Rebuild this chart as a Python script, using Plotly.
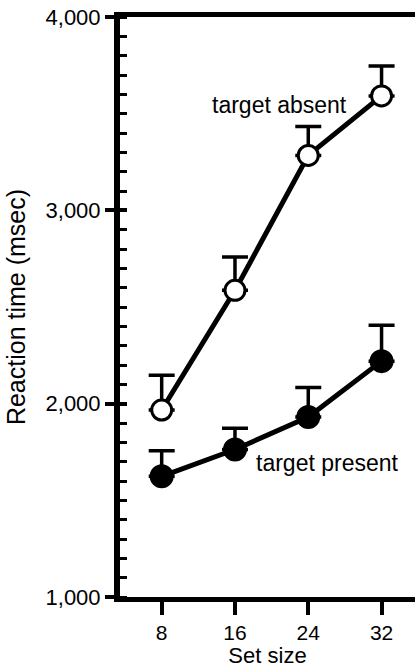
import plotly.graph_objects as go

set_size = [8, 16, 24, 32]
present_rt = [1624, 1763, 1931, 2220]
present_err = [132, 110, 152, 186]
absent_rt = [1967, 2586, 3284, 3592]
absent_err = [180, 173, 150, 154]
y_ticks = [1000, 2000, 3000, 4000]

FONT = "Liberation Sans, Arial, Helvetica, sans-serif"

fig = go.Figure()

fig.add_trace(go.Scatter(
    x=set_size, y=present_rt, mode="lines+markers",
    line=dict(color="black", width=5),
    marker=dict(size=22, color="black", line=dict(color="black", width=2)),
    error_y=dict(type="data", symmetric=False, array=present_err,
                 arrayminus=[0] * len(present_err), color="black",
                 thickness=3.5, width=13),
    showlegend=False, hoverinfo="skip", cliponaxis=False,
))
fig.add_trace(go.Scatter(
    x=set_size, y=absent_rt, mode="lines+markers",
    line=dict(color="black", width=5),
    marker=dict(size=20, color="white", line=dict(color="black", width=3)),
    error_y=dict(type="data", symmetric=False, array=absent_err,
                 arrayminus=[0] * len(absent_err), color="black",
                 thickness=3.5, width=13),
    showlegend=False, hoverinfo="skip", cliponaxis=False,
))
# dummy trace for the overlay axis carrying inside major ticks
fig.add_trace(go.Scatter(x=[None], y=[None], yaxis="y2", showlegend=False,
                         hoverinfo="skip"))

fig.add_annotation(x=20.9, y=3544, text="target absent", showarrow=False,
                   font=dict(family=FONT, size=23, color="black"))
fig.add_annotation(x=26.1, y=1691, text="target present", showarrow=False,
                   font=dict(family=FONT, size=23, color="black"))

fig.update_layout(
    width=415, height=668,
    margin=dict(l=120, r=0, t=17, b=71),
    paper_bgcolor="white", plot_bgcolor="white",
    font=dict(family=FONT, size=22, color="black"),
    xaxis=dict(
        range=[3.45, 35.65], tickvals=set_size, ticktext=[str(v) for v in set_size],
        ticks="outside", ticklen=13, tickwidth=4, tickcolor="black",
        showline=True, linewidth=5, linecolor="black", mirror=True,
        showgrid=False, zeroline=False, automargin=False,
        title=dict(text="Set size", font=dict(size=22), standoff=3),
        tickfont=dict(size=21),
    ),
    yaxis=dict(
        range=[1000, 4000], tickvals=y_ticks, tickformat=",",
        ticks="outside", ticklen=9, tickwidth=4, tickcolor="black",
        showline=True, linewidth=6, linecolor="black",
        showgrid=False, zeroline=False, automargin=False,
        minor=dict(dtick=100, ticks="inside", ticklen=7, tickwidth=3,
                   tickcolor="black", showgrid=False),
        title=dict(text="Reaction time (msec)", font=dict(size=25), standoff=15),
        tickfont=dict(size=22),
    ),
    yaxis2=dict(
        range=[1000, 4000], overlaying="y", side="left", anchor="x",
        tickvals=y_ticks, ticks="inside", ticklen=7, tickwidth=4,
        tickcolor="black", showticklabels=False, showline=False,
        showgrid=False, zeroline=False,
    ),
)

fig.write_html("out.html", config={"displayModeBar": False},
               post_script="document.body.style.margin='0';document.body.style.padding='0';")
